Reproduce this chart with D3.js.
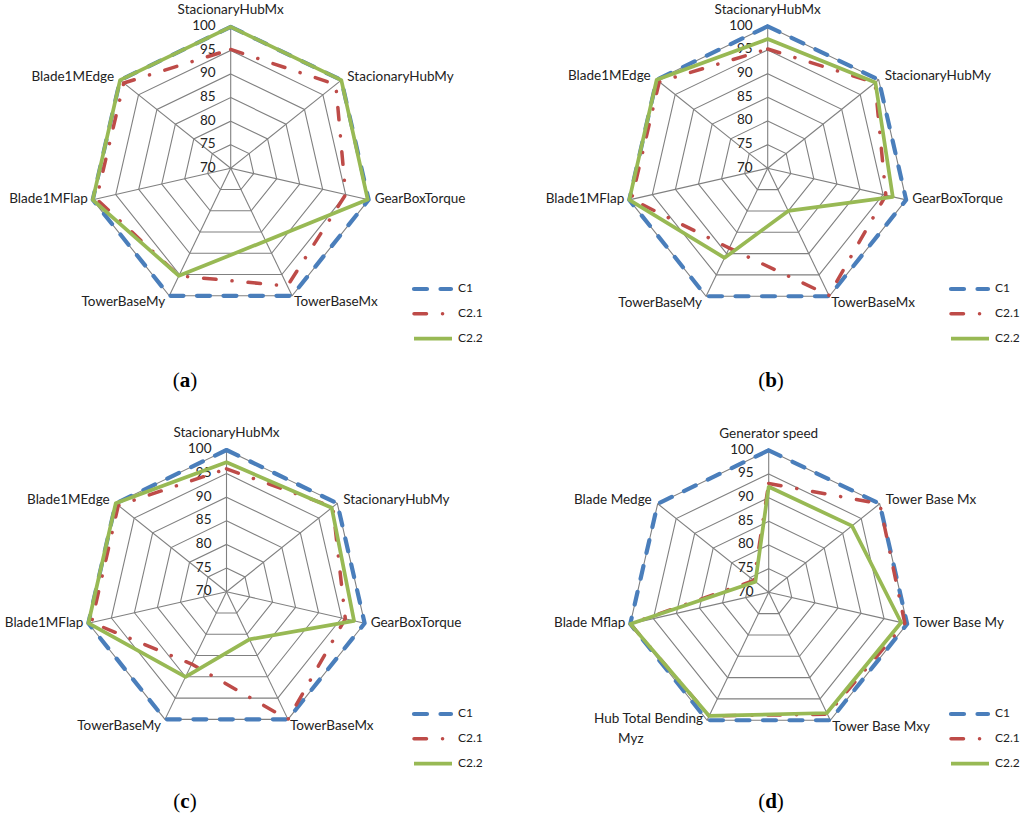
<!DOCTYPE html>
<html>
<head>
<meta charset="utf-8">
<script src="https://cdn.jsdelivr.net/npm/d3@7"></script>
<style>
  html, body { margin: 0; padding: 0; background: #fff; }
  svg { display: block; }
</style>
</head>
<body>
<svg id="chart" width="1024" height="824"></svg>
<script>
// ---------------- data ----------------
const ticks = [70, 75, 80, 85, 90, 95, 100];
const seriesNames = ["C1", "C2.1", "C2.2"];

const categoriesA = ["StacionaryHubMx", "StacionaryHubMy", "GearBoxTorque", "TowerBaseMx", "TowerBaseMy", "Blade1MFlap", "Blade1MEdge"];
const c1A  = [100, 100, 100, 100, 100, 100, 100];
const c21A = [95.2, 98.5, 95.0, 97.7, 95.3, 99.2, 99.0];
const c22A = [100, 100, 99.8, 87.1, 95.3, 100, 100];

const categoriesB = ["StacionaryHubMx", "StacionaryHubMy", "GearBoxTorque", "TowerBaseMx", "TowerBaseMy", "Blade1MFlap", "Blade1MEdge"];
const c1B  = [100, 100, 100, 100, 100, 100, 100];
const c21B = [95.2, 99.0, 95.6, 99.8, 88.7, 99.5, 99.3];
const c22B = [97.3, 99.1, 97.1, 80.0, 91.0, 100, 100];

const categoriesC = ["StacionaryHubMx", "StacionaryHubMy", "GearBoxTorque", "TowerBaseMx", "TowerBaseMy", "Blade1MFlap", "Blade1MEdge"];
const c1C  = [100, 100, 100, 100, 100, 100, 100];
const c21C = [96.0, 98.8, 95.8, 100, 87.0, 99.3, 99.3];
const c22C = [97.4, 98.5, 97.7, 81.2, 90.0, 100, 100];

const categoriesD = ["Generator speed", "Tower Base Mx", "Tower Base My", "Tower Base Mxy", "Hub Total Bending|Myz", "Blade Mflap", "Blade Medge"];
const c1D  = [100, 100, 100, 100, 100, 100, 100];
const c21D = [93.0, 100, 99.5, 98.6, 99.0, 100, 74.0];
const c22D = [92.3, 92.5, 98.7, 98.3, 99.0, 100, 73.6];

const panelLabels = ["a", "b", "c", "d"];

// ---------------- styles ----------------
const seriesStyles = [
  { color: "#4A7EBB", width: 4.2, dash: "13,13.5", cap: "round" },
  { color: "#BE4B48", width: 3.5, dash: "12.5,16,0.1,16", cap: "round" },
  { color: "#98B954", width: 3.7, dash: null, cap: "butt" }
];
const labelFont = "Lato, 'Liberation Sans', sans-serif";

const panels = [
  { cx: 230.7, cy: 168.3, R: 141.5, cats: categoriesA, data: [c1A, c21A, c22A], lx: 412, ly: 289, px: 185, py: 382 },
  { cx: 767.7, cy: 168.3, R: 142,   cats: categoriesB, data: [c1B, c21B, c22B], lx: 949, ly: 289, px: 771, py: 382 },
  { cx: 226.5, cy: 591.7, R: 141.7, cats: categoriesC, data: [c1C, c21C, c22C], lx: 412, ly: 714, px: 185, py: 803 },
  { cx: 768.7, cy: 592.3, R: 142,   cats: categoriesD, data: [c1D, c21D, c22D], lx: 949, ly: 714, px: 771, py: 803 }
];

const svg = d3.select("#chart");

panels.forEach((p, pi) => {
  const g = svg.append("g").attr("transform", `translate(${p.cx},${p.cy})`);
  const n = p.cats.length;
  const angle = d3.scaleLinear().domain([0, n]).range([0, 2 * Math.PI]);
  const r = d3.scaleLinear().domain([70, 100]).range([0, p.R]);

  const pt = (i, v) => {
    const a = angle(i);
    return [r(v) * Math.sin(a), -r(v) * Math.cos(a)];
  };

  // grid rings
  ticks.filter(t => t > 70).forEach(t => {
    const pts = d3.range(n).map(i => pt(i, t));
    g.append("polygon")
      .attr("points", pts.map(d => d.join(",")).join(" "))
      .attr("fill", "none").attr("stroke", "#808080").attr("stroke-width", 1.1);
  });
  // spokes
  d3.range(n).forEach(i => {
    const [x, y] = pt(i, 100);
    g.append("line").attr("x1", 0).attr("y1", 0).attr("x2", x).attr("y2", y)
      .attr("stroke", "#808080").attr("stroke-width", 1.1);
  });

  // tick labels
  ticks.forEach(t => {
    g.append("text")
      .attr("x", -15).attr("y", -r(t))
      .attr("text-anchor", "end").attr("dominant-baseline", "middle")
      .attr("font-family", labelFont).attr("font-size", 13.5).attr("fill", "#222")
      .text(t);
  });

  // series
  const line = d3.lineRadial()
    .angle((d, i) => angle(i))
    .radius(d => r(d))
    .curve(d3.curveLinearClosed);
  p.data.forEach((vals, si) => {
    const st = seriesStyles[si];
    g.append("path")
      .attr("d", line(vals))
      .attr("fill", "none")
      .attr("stroke", st.color)
      .attr("stroke-width", st.width)
      .attr("stroke-linecap", st.cap)
      .attr("stroke-linejoin", "round")
      .attr("stroke-dasharray", st.dash);
  });

  // category labels
  p.cats.forEach((c, i) => {
    const [vx, vy] = pt(i, 100);
    const lines = c.split("|");
    let anchor, x, y;
    if (i === 0) { anchor = "middle"; x = vx; y = vy - 16; }
    else if (i === 1) { anchor = "start"; x = vx + 6; y = vy - 3; }
    else if (i === 2) { anchor = "start"; x = vx + 6; y = vy; }
    else if (i === 3) { anchor = "start"; x = vx + 2; y = vy + 7; }
    else if (i === 4) { anchor = "end"; x = vx - 4; y = vy + 7; }
    else if (i === 5) { anchor = "end"; x = vx - 5; y = vy; }
    else { anchor = "end"; x = vx - 6; y = vy - 3; }
    const t = g.append("text")
      .attr("font-family", labelFont).attr("font-size", 13.5).attr("fill", "#222")
      .attr("dominant-baseline", "middle");
    if (lines.length === 1) {
      t.attr("x", x).attr("y", y).attr("text-anchor", anchor).text(c);
    } else {
      // two-line label: first line right-aligned near the vertex, second line below it
      const first = t.append("tspan").attr("x", x).attr("y", y - 7).attr("text-anchor", anchor).text(lines[0]);
      const w = first.node().getComputedTextLength();
      t.append("tspan").attr("x", x - w + 24).attr("y", y + 13).attr("text-anchor", "start").text(lines[1]);
    }
  });

  // legend
  const lg = svg.append("g").attr("transform", `translate(${p.lx},${p.ly})`);
  seriesNames.forEach((s, si) => {
    const st = seriesStyles[si];
    const yy = si * 24.8;
    lg.append("line").attr("x1", 2).attr("x2", si === 2 ? 40 : 39).attr("y1", yy).attr("y2", yy)
      .attr("stroke", st.color).attr("stroke-width", st.width)
      .attr("stroke-linecap", st.cap).attr("stroke-dasharray", st.dash);
    lg.append("text").attr("x", 46).attr("y", yy)
      .attr("dominant-baseline", "middle")
      .attr("font-family", labelFont).attr("font-size", 12).attr("fill", "#222")
      .text(s);
  });

  // panel label
  const pl = svg.append("text").attr("x", p.px).attr("y", p.py)
    .attr("text-anchor", "middle").attr("dominant-baseline", "middle")
    .attr("font-family", "'Liberation Serif', 'Times New Roman', serif").attr("font-size", 21).attr("fill", "#000");
  pl.append("tspan").text("(");
  pl.append("tspan").attr("font-weight", "bold").text(panelLabels[pi]);
  pl.append("tspan").text(")");
});
</script>
</body>
</html>
